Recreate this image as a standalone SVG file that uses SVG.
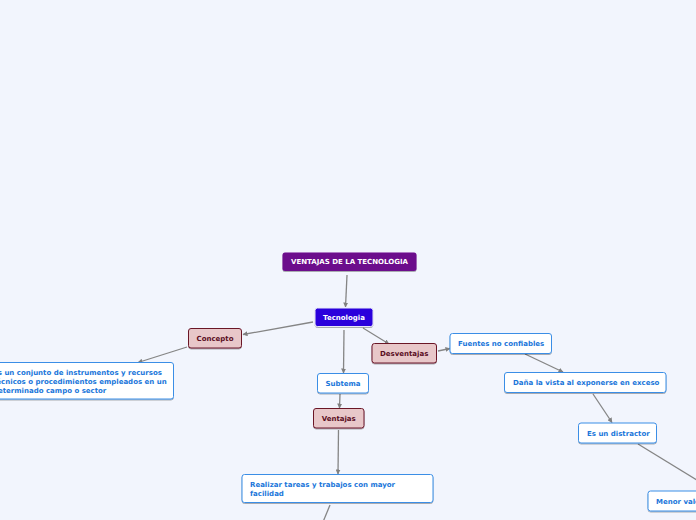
<svg xmlns="http://www.w3.org/2000/svg" width="696" height="520" viewBox="0 0 696 520">
<defs>
<marker id="ah" viewBox="0 0 10 10" refX="9" refY="5" markerWidth="5" markerHeight="5" orient="auto" markerUnits="userSpaceOnUse"><path d="M0,0 L10,5 L0,10 z" fill="#808080"/></marker>
<filter id="sh" x="-10%" y="-20%" width="120%" height="150%"><feDropShadow dx="0" dy="1" stdDeviation="0.6" flood-color="#000" flood-opacity="0.3"/></filter>
</defs>
<style>
text{font-family:"DejaVu Sans",Verdana,sans-serif;font-weight:bold;font-size:7px}
.c{stroke:#858585;stroke-width:1.3;fill:none;marker-end:url(#ah)}
.cn{stroke:#858585;stroke-width:1.3;fill:none}
.sub rect{fill:#ffffff;stroke:#3b8ee6;stroke-width:1}
.sub text{fill:#1a76da}
.red rect{fill:#e8c7c9;stroke:#6b1428;stroke-width:1}
.red text{fill:#5a0d1e}
</style>
<rect width="696" height="520" fill="#f2f5fd"/>
<g id="connectors">
<path class="c" d="M347,275 L345.5,307"/>
<path class="c" d="M313,322 L243,334.5"/>
<path class="c" d="M363,328 L389,344"/>
<path class="c" d="M344,330 L343.5,373"/>
<path class="c" d="M187,347 L138,362.5"/>
<path class="c" d="M340,394 L339.5,408"/>
<path class="c" d="M438,351 L450,348.5"/>
<path class="c" d="M525,354 L563,372"/>
<path class="c" d="M593,394 L612,422.5"/>
<path class="cn" d="M638,444 L700,482"/>
<path class="c" d="M338.5,430 L338,474"/>
<path class="cn" d="M330,505 L323,522"/>
</g>
<g id="root"><rect x="282.5" y="252.5" width="134" height="18.5" rx="2.5" fill="#6c0c8c" filter="url(#sh)"/><text x="349.5" y="264.3" text-anchor="middle" fill="#fff">VENTAJAS DE LA TECNOLOGIA</text></g>
<g id="tecnologia"><rect x="315" y="308" width="58" height="18.5" rx="2.5" fill="#2a00dc" stroke="#e8e8f8" stroke-width="1" filter="url(#sh)"/><text x="344" y="320" text-anchor="middle" fill="#fff">Tecnologia</text></g>
<g id="concepto" class="red"><rect x="188.5" y="328.5" width="53" height="19.5" rx="2.5" filter="url(#sh)"/><text x="215" y="341" text-anchor="middle">Concepto</text></g>
<g id="desventajas" class="red"><rect x="372" y="343.5" width="64.5" height="19.5" rx="2.5" filter="url(#sh)"/><text x="404.2" y="356" text-anchor="middle">Desventajas</text></g>
<g id="ventajas" class="red"><rect x="313.5" y="408.5" width="50.5" height="19.5" rx="2.5" filter="url(#sh)"/><text x="338.7" y="421" text-anchor="middle">Ventajas</text></g>
<g id="subtema" class="sub"><rect x="317.5" y="373.5" width="51" height="19.5" rx="2.5" filter="url(#sh)"/><text x="343" y="386" text-anchor="middle">Subtema</text></g>
<g id="definicion" class="sub"><rect x="-20" y="362.5" width="193.5" height="36.5" rx="2.5" filter="url(#sh)"/><text x="-7" y="374.5">Es un conjunto de instrumentos y recursos</text><text x="-7" y="383.5">técnicos o procedimientos empleados en un</text><text x="-7" y="392.5">determinado campo o sector</text></g>
<g id="fuentes" class="sub"><rect x="450" y="333.5" width="101.5" height="20" rx="2.5" filter="url(#sh)"/><text x="458" y="346">Fuentes no confiables</text></g>
<g id="dana" class="sub"><rect x="504.5" y="372.5" width="161.5" height="20" rx="2.5" filter="url(#sh)"/><text x="513" y="385">Daña la vista al exponerse en exceso</text></g>
<g id="distractor" class="sub"><rect x="578.5" y="423" width="78" height="20" rx="2.5" filter="url(#sh)"/><text x="587" y="435.5">Es un distractor</text></g>
<g id="menor" class="sub"><rect x="648" y="491" width="80" height="20" rx="2.5" filter="url(#sh)"/><text x="656" y="503.5">Menor valor</text></g>
<g id="realizar" class="sub"><rect x="242" y="474.5" width="191" height="28" rx="2.5" filter="url(#sh)"/><text x="250" y="486.5">Realizar tareas y trabajos con mayor</text><text x="250" y="495.5">facilidad</text></g>
</svg>
